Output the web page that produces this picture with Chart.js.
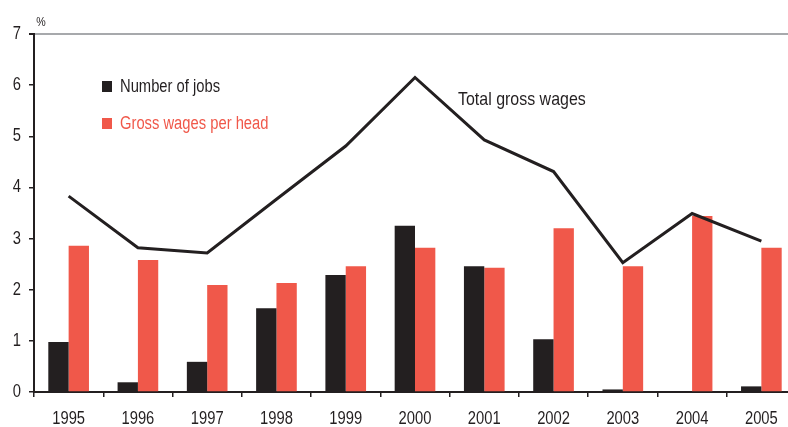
<!DOCTYPE html>
<html>
<head>
<meta charset="utf-8">
<script src="https://cdn.jsdelivr.net/npm/chart.js@4.4.1/dist/chart.umd.min.js"></script>
<style>
  html, body { margin: 0; padding: 0; background: #ffffff; overflow: hidden; }
  #wrap { width: 800px; height: 427px; }
</style>
</head>
<body>
<div id="wrap"><canvas id="c" width="800" height="427"></canvas></div>
<script>
const years = ['1995','1996','1997','1998','1999','2000','2001','2002','2003','2004','2005'];
const numberOfJobs = [0.98, 0.19, 0.59, 1.64, 2.29, 3.25, 2.46, 1.03, 0.05, 0.02, 0.11];
const grossWagesPerHead = [2.86, 2.58, 2.09, 2.13, 2.46, 2.82, 2.43, 3.20, 2.46, 3.44, 2.82];
const totalGrossWages = [3.83, 2.82, 2.72, 3.77, 4.81, 6.15, 4.93, 4.31, 2.53, 3.49, 2.95];
const yMin = 0, yMax = 7, yStep = 1;
const unitLabel = '%';

const DARK = '#231f20';
const RED = '#f0584a';
const GREY = '#a7a9ac';
const FONT = "'Liberation Sans', Arial, sans-serif";

function narrowText(ctx, text, x, y, align, size, sx) {
  ctx.save();
  ctx.font = size + 'px ' + FONT;
  ctx.textBaseline = 'middle';
  ctx.translate(x, y);
  ctx.scale(sx || 0.82, 1);
  ctx.textAlign = align;
  ctx.fillText(text, 0, 0);
  ctx.restore();
}

const overlay = {
  id: 'overlay',
  afterDraw(chart) {
    const ctx = chart.ctx;
    const ds = chart.data.datasets;
    ctx.save();
    // axis tick labels, placed through the chart's own scales
    const xs = chart.scales.x, ys = chart.scales.y;
    ctx.fillStyle = DARK;
    xs.ticks.forEach((t, i) => {
      narrowText(ctx, xs.getLabelForValue(t.value), xs.getPixelForTick(i), 419, 'center', 18);
    });
    ys.ticks.forEach((t, i) => {
      narrowText(ctx, String(t.value), 21, ys.getPixelForTick(i), 'right', 18);
    });
    // legend entries for bars
    const items = [
      { label: ds[1].label, color: ds[1].backgroundColor, y: 87, textColor: DARK },
      { label: ds[2].label, color: ds[2].backgroundColor, y: 124, textColor: RED }
    ];
    items.forEach(it => {
      ctx.fillStyle = it.color;
      ctx.fillRect(102, it.y - 6, 10, 11);
      ctx.fillStyle = it.textColor;
      narrowText(ctx, it.label, 120, it.y, 'left', 18);
    });
    // line label
    ctx.fillStyle = DARK;
    narrowText(ctx, ds[0].label, 458, 100, 'left', 19, 0.84);
    // unit
    narrowText(ctx, unitLabel, 41, 22, 'center', 13);
    ctx.restore();
  }
};

new Chart(document.getElementById('c'), {
  data: {
    labels: years,
    datasets: [
      {
        type: 'line',
        label: 'Total gross wages',
        data: totalGrossWages,
        borderColor: DARK,
        borderWidth: 3,
        pointRadius: 0,
        tension: 0,
        fill: false,
        order: 0
      },
      {
        type: 'bar',
        label: 'Number of jobs',
        data: numberOfJobs,
        backgroundColor: DARK,
        borderWidth: 0,
        categoryPercentage: 0.587,
        barPercentage: 1.0,
        order: 1
      },
      {
        type: 'bar',
        label: 'Gross wages per head',
        data: grossWagesPerHead,
        backgroundColor: RED,
        borderWidth: 0,
        categoryPercentage: 0.587,
        barPercentage: 1.0,
        order: 1
      }
    ]
  },
  options: {
    responsive: false,
    animation: false,
    layout: { padding: { top: 34, right: 4, left: 0, bottom: 0 } },
    plugins: {
      legend: { display: false },
      tooltip: { enabled: false }
    },
    scales: {
      x: {
        offset: true,
        grid: {
          offset: true,
          drawOnChartArea: false,
          drawTicks: true,
          tickLength: 5,
          color: DARK,
          lineWidth: 1.5
        },
        border: { color: DARK, width: 2 },
        ticks: { display: false, autoSkip: false },
        afterFit(scale) { scale.height = 35; }
      },
      y: {
        min: yMin,
        max: yMax,
        grid: {
          drawOnChartArea: true,
          drawTicks: true,
          tickLength: 5,
          color: ctx => (ctx.tick && ctx.tick.value === yMax) ? GREY : 'rgba(0,0,0,0)',
          tickColor: DARK,
          lineWidth: ctx => (ctx.tick && ctx.tick.value === yMax) ? 2 : 1.5
        },
        border: { color: DARK, width: 2 },
        ticks: { display: false, stepSize: yStep },
        afterFit(scale) { scale.width = 34; }
      }
    }
  },
  plugins: [overlay]
});
</script>
</body>
</html>
